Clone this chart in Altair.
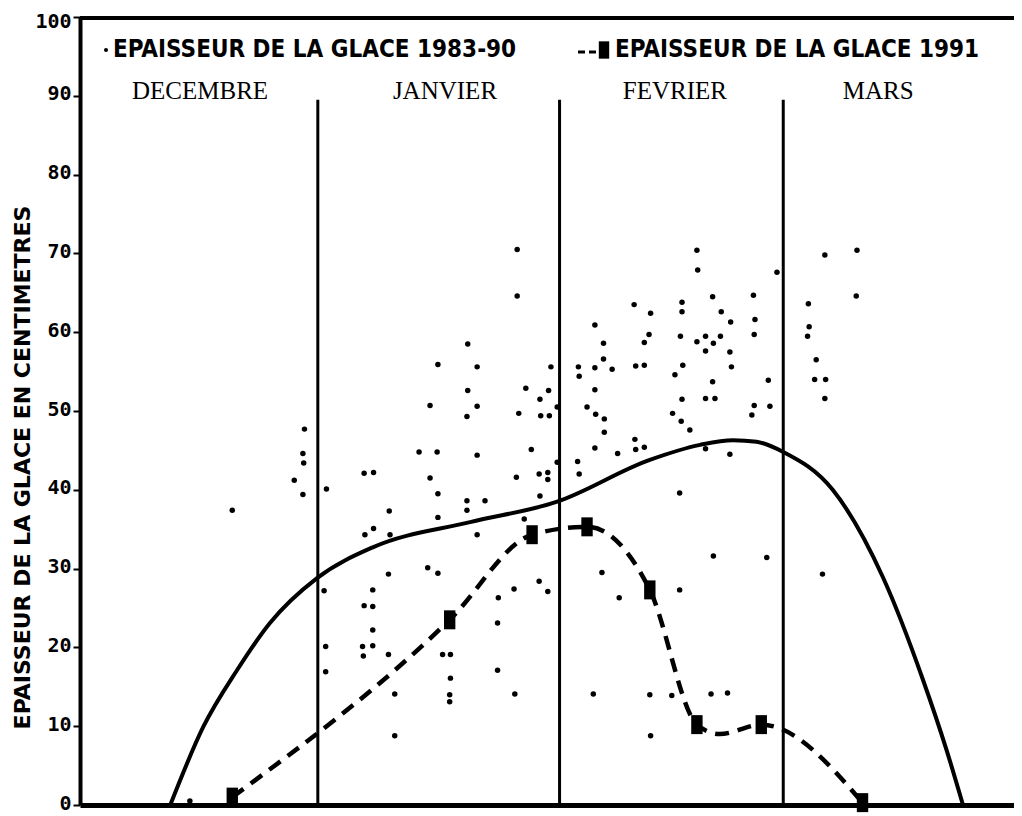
import altair as alt
import pandas as pd

# ---------------- data (days since 1 December, thickness in cm) ----------------
obs_day = [
    14.0, 19.4, 28.6, 28.4, 28.5, 27.3, 28.4,
    31.4, 31.1, 31.3, 31.3, 49.4, 45.6, 50.6, 49.4, 44.6, 50.6, 49.3, 43.2, 45.5, 50.6,
    36.2, 37.4, 44.6, 45.6, 49.3, 49.3, 39.4, 45.6, 36.3, 37.4, 39.5, 50.6, 44.3, 45.6,
    39.3, 37.3, 36.2, 37.3, 37.3, 36.0, 37.3, 36.1, 39.3, 46.2, 47.2, 47.2, 40.1, 47.1,
    47.1, 40.1, 55.7, 55.7, 60.0, 56.8, 59.7, 58.6, 55.9, 58.7, 59.8, 60.8, 57.5, 60.8,
    58.5, 59.6, 59.6, 55.6, 58.6, 51.6, 56.6, 58.5, 59.6, 55.3, 53.3, 53.2, 53.2, 55.4,
    65.6, 66.7, 66.7, 63.5, 65.6, 67.8, 63.6, 65.6, 64.6, 65.7, 66.8, 66.8, 65.6, 68.5,
    63.4, 63.6, 66.5, 68.7, 65.4, 78.6, 78.7, 88.8, 70.6, 76.7, 80.6, 85.8, 72.7, 76.7,
    81.7, 82.9, 86.0, 72.5, 71.9, 76.5, 78.6, 79.7, 80.7, 81.6, 85.9, 79.7, 82.8, 70.8,
    71.9, 76.8, 83.0, 75.8, 80.6, 87.7, 76.7, 79.7, 80.9, 85.9, 87.9, 85.6, 75.5, 76.6,
    77.7, 70.7, 70.8, 71.9, 79.7, 82.8, 76.4, 80.7, 87.5, 76.4, 72.6, 75.4, 80.4, 82.5,
    72.7, 94.9, 99.0, 98.9, 92.8, 92.9, 92.7, 93.8, 93.6, 95.0, 94.9, 94.6,
]
obs_cm = [
    0.5, 37.4, 47.7, 44.6, 43.4, 41.2, 39.4,
    40.1, 27.2, 20.1, 16.9, 58.5, 55.9, 55.6, 52.6, 50.7, 50.6, 49.3, 44.8, 44.8, 44.4,
    42.1, 42.2, 41.5, 39.5, 38.6, 37.4, 37.3, 36.5, 34.3, 35.1, 34.3, 34.3, 30.1, 29.4,
    29.3, 27.3, 25.3, 25.2, 22.2, 20.1, 20.2, 18.9, 19.1, 19.1, 19.1, 16.1, 14.1, 14.0,
    13.1, 8.8, 70.5, 64.6, 55.6, 52.9, 52.6, 51.5, 49.7, 49.4, 49.4, 50.5, 45.1, 43.5,
    42.0, 42.2, 41.3, 41.6, 39.2, 38.6, 36.3, 28.4, 27.1, 27.4, 26.3, 23.1, 17.1, 14.1,
    60.9, 58.6, 56.6, 55.6, 55.5, 55.3, 54.4, 52.7, 50.5, 49.6, 49.0, 47.3, 45.3, 44.6,
    43.6, 42.0, 29.5, 26.3, 14.1, 70.4, 67.9, 67.6, 63.5, 63.8, 64.5, 64.7, 62.4, 62.6,
    62.6, 61.3, 61.6, 59.7, 58.7, 59.5, 58.8, 59.5, 58.6, 59.5, 59.7, 57.6, 57.5, 55.7,
    55.8, 55.8, 55.6, 54.6, 53.7, 53.9, 51.5, 51.6, 51.6, 50.7, 50.6, 49.5, 49.7, 48.7,
    47.6, 46.4, 45.1, 45.4, 45.2, 44.5, 39.6, 31.6, 31.4, 27.3, 14.0, 13.9, 14.1, 14.2,
    8.8, 69.8, 70.4, 64.6, 63.6, 60.7, 59.5, 56.5, 54.0, 54.0, 51.6, 29.3,
]

mean_day = [11.5, 15.7, 20.0, 24.2, 30.2, 37.3, 49.7, 60.8, 72.6, 79.0, 83.2, 86.2,
            89.6, 95.9, 102.3, 107.4, 110.4, 112.5]
mean_cm = [0.0, 9.9, 17.1, 23.1, 28.8, 32.7, 35.9, 38.5, 43.8, 45.7, 46.3, 46.1,
           44.8, 40.0, 28.9, 15.9, 7.0, 0.0]

y1991_day = [19.4, 47.1, 57.6, 64.6, 72.6, 78.6, 86.8, 99.7]
y1991_cm = [1.0, 23.5, 34.3, 35.3, 27.3, 10.2, 10.2, 0.3]
y1991_line_day = [19.4, 47.1, 57.6, 64.6, 72.6, 78.6, 81.5, 86.8, 99.7]
y1991_line_cm = [1.0, 23.5, 34.3, 35.3, 27.3, 10.2, 9.0, 10.2, 0.3]

month_names = ["DECEMBRE", "JANVIER", "FEVRIER", "MARS"]
month_label_day = [15.3, 46.5, 75.8, 101.7]
month_bounds = [30.3, 61.1, 89.6]
month_line_top = 89.5

legend_labels = ["EPAISSEUR DE LA GLACE 1983-90", "EPAISSEUR DE LA GLACE 1991"]
y_title = "EPAISSEUR DE LA GLACE EN CENTIMETRES"
y_ticks = list(range(0, 101, 10))

# ---------------- chart ----------------
W, H = 934, 788
xs = alt.Scale(domain=[0, 119], nice=False, zero=False)
ys = alt.Scale(domain=[0, 100], nice=False)

obs = pd.DataFrame({"day": obs_day, "cm": obs_cm})
mean = pd.DataFrame({"day": mean_day, "cm": mean_cm})
d91 = pd.DataFrame({"day": y1991_day, "cm": y1991_cm})
d91l = pd.DataFrame({"day": y1991_line_day, "cm": y1991_line_cm})
months = pd.DataFrame({"month": month_names, "day": month_label_day})
bounds = pd.DataFrame({"day": month_bounds,
                       "bottom": [0.0] * len(month_bounds),
                       "top": [month_line_top] * len(month_bounds)})

xaxis = alt.Axis(labels=False, ticks=False, title=None, grid=False,
                 domainColor="black", domainWidth=5)
yaxis = alt.Axis(values=y_ticks, title=y_title, grid=False,
                 domainColor="black", domainWidth=4,
                 tickColor="black", tickWidth=2, tickSize=7,
                 labelFont="DejaVu Sans Mono", labelFontWeight="bold",
                 labelFontSize=20, labelColor="black",
                 labelBaseline="middle",
                 labelOffset={"condition": {"test": "datum.value == 100", "value": 4},
                              "value": -2},
                 labelPadding=2,
                 titleFont="DejaVu Sans", titleFontWeight="bold", titleFontSize=22,
                 titleColor="black", titleX=-58, titleY=450, titleBaseline="middle")

base_axes = alt.Chart(mean).mark_line(opacity=0).encode(
    x=alt.X("day:Q", scale=xs, axis=xaxis),
    y=alt.Y("cm:Q", scale=ys, axis=yaxis),
)

points = alt.Chart(obs).mark_circle(size=30, color="black", opacity=1).encode(
    x=alt.X("day:Q", scale=xs), y=alt.Y("cm:Q", scale=ys))

mean_line = alt.Chart(mean).mark_line(color="black", strokeWidth=4,
                                      interpolate="monotone").encode(
    x=alt.X("day:Q", scale=xs), y=alt.Y("cm:Q", scale=ys))

line91 = alt.Chart(d91l).mark_line(color="black", strokeWidth=4.5,
                                   strokeDash=[14, 9],
                                   interpolate="monotone").encode(
    x=alt.X("day:Q", scale=xs), y=alt.Y("cm:Q", scale=ys))

marker_shape = "M-0.6,-1L0.6,-1L0.6,1L-0.6,1Z"
marks91 = alt.Chart(d91).mark_point(shape=marker_shape, size=360, filled=True,
                                    color="black", opacity=1).encode(
    x=alt.X("day:Q", scale=xs), y=alt.Y("cm:Q", scale=ys))

month_rules = alt.Chart(bounds).mark_rule(color="black", strokeWidth=3).encode(
    x=alt.X("day:Q", scale=xs), y=alt.Y("bottom:Q", scale=ys), y2="top:Q")

month_text = alt.Chart(months).mark_text(
    font="Liberation Serif", fontSize=25, color="black",
    align="center", baseline="middle").encode(
    x=alt.X("day:Q", scale=xs), y=alt.value(74), text="month:N")

top_border = alt.Chart(mean).mark_rule(color="black", strokeWidth=4).encode(
    x=alt.value(0), x2=alt.value(W), y=alt.value(1))

leg_font = "'DejaVu Sans Condensed', sans-serif"
leg1 = pd.DataFrame({"t": [legend_labels[0]]})
leg2 = pd.DataFrame({"t": [legend_labels[1]]})
leg1_dot = alt.Chart(leg1).mark_circle(
    size=16, color="black", opacity=1).encode(x=alt.value(26), y=alt.value(33))
leg1_text = alt.Chart(leg1).mark_text(
    font=leg_font, fontWeight="bold", fontSize=24, align="left",
    baseline="middle", color="black").encode(
    x=alt.value(33), y=alt.value(33), text="t:N")
leg2_dash = alt.Chart(leg2).mark_rule(
    color="black", strokeWidth=3, strokeDash=[7, 4]).encode(
    x=alt.value(498), x2=alt.value(520), y=alt.value(35))
leg2_mark = alt.Chart(leg2).mark_point(
    shape=marker_shape, size=300, filled=True, color="black", opacity=1).encode(
    x=alt.value(524), y=alt.value(33))
leg2_text = alt.Chart(leg2).mark_text(
    font=leg_font, fontWeight="bold", fontSize=24, align="left",
    baseline="middle", color="black").encode(
    x=alt.value(535), y=alt.value(33), text="t:N")

chart = alt.layer(
    base_axes, month_rules, points, mean_line, line91, marks91, month_text,
    top_border, leg1_dot, leg1_text, leg2_dash, leg2_mark, leg2_text,
).properties(
    width=W, height=H,
    autosize=alt.AutoSizeParams(type="none"),
    padding={"left": 72, "top": 9, "right": 0, "bottom": 8},
    background="white",
).configure_view(stroke=None)

chart.save("out.html", embed_options={"renderer": "svg", "actions": False})
